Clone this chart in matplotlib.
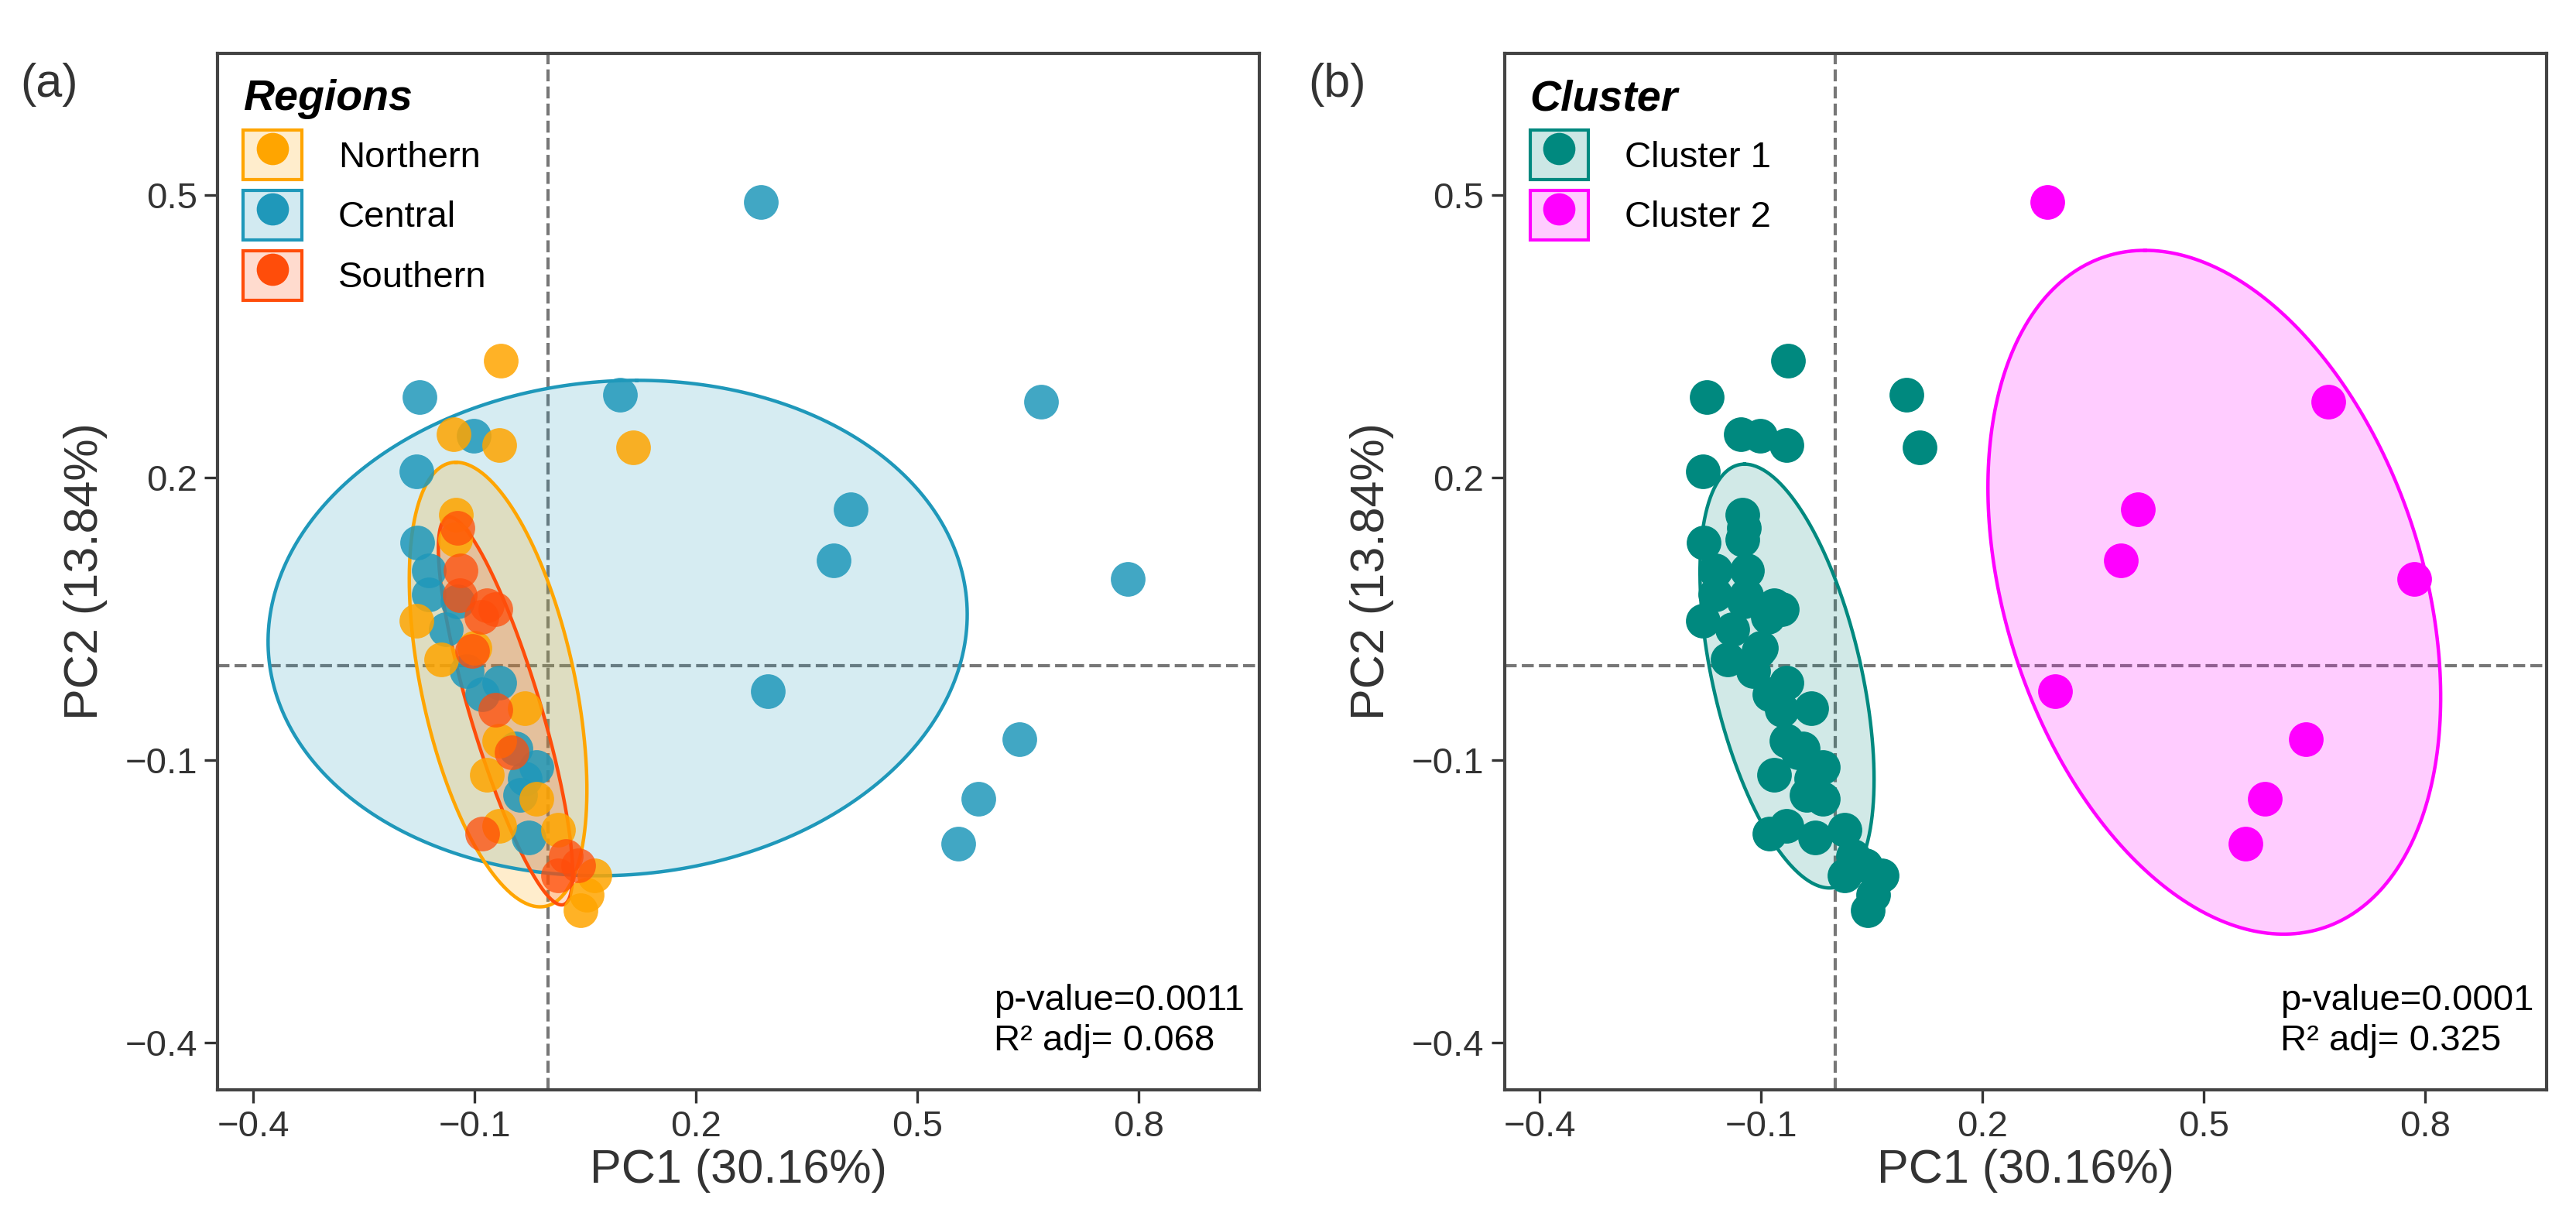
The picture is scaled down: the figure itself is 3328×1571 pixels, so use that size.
import numpy as np
import matplotlib
matplotlib.use('Agg')
import matplotlib.pyplot as plt
from matplotlib.patches import Patch, Polygon
from matplotlib.lines import Line2D

plt.rcParams['font.family'] = ['Liberation Sans', 'DejaVu Sans']

# --- data (PC1, PC2) ---
north_x = [-0.064, -0.128, -0.066, 0.115, -0.125, -0.126, -0.179, -0.145, -0.032, -0.083, -0.016, -0.066, 0.013, 0.063, 0.052, 0.044, -0.100, -0.066]
north_y = [0.324, 0.246, 0.234, 0.232, 0.160, 0.134, 0.048, 0.007, -0.045, -0.116, -0.141, -0.170, -0.174, -0.223, -0.243, -0.260, 0.019, -0.080]
south_x = [-0.123, -0.119, -0.120, -0.083, -0.072, -0.091, -0.103, -0.072, -0.050, -0.089, 0.024, 0.041, 0.013]
south_y = [0.146, 0.101, 0.075, 0.064, 0.060, 0.052, 0.016, -0.047, -0.092, -0.178, -0.202, -0.212, -0.223]
central_x = [0.288, 0.097, 0.668, 0.410, 0.387, 0.785, 0.298, 0.638, 0.583, 0.556,
             -0.174, -0.101, -0.179, -0.178, -0.162, -0.162, -0.139, -0.111, -0.066, -0.089,
             -0.044, -0.032, -0.016, -0.038, -0.027, -0.123]
central_y = [0.492, 0.288, 0.280, 0.166, 0.112, 0.092, -0.027, -0.078, -0.141, -0.189,
             0.285, 0.244, 0.206, 0.131, 0.101, 0.076, 0.039, -0.006, -0.018, -0.030,
             -0.088, -0.120, -0.108, -0.137, -0.182, 0.068]
# cluster 2 = the nine far-right central samples, everything else = cluster 1
cluster2_idx = [0, 2, 3, 4, 5, 6, 7, 8, 9]

# ellipses: centre, half-vector to top, horizontal half-width (data units)
ell_north = ((-0.068, -0.020), (-0.057, 0.236), 0.106)
ell_central = ((0.094, 0.040), (0.026, 0.263), 0.473)
ell_south = ((-0.058, -0.048), (-0.076, 0.206), 0.050)
ell_c1 = ((-0.065, -0.011), (-0.0575, 0.225), 0.103)
ell_c2 = ((0.514, 0.078), (-0.094, 0.363), 0.292)

C_N, C_C, C_S = '#FFA500', '#1F98BA', '#FF4D0A'
C_1, C_2 = '#00897F', '#FF00FF'


def ellipse(ax, e, col, alpha=0.18):
    (cx, cy), (ax_, ay_), bw = e
    t = np.linspace(0, 2 * np.pi, 300)
    xs = cx + np.cos(t) * ax_ + np.sin(t) * bw
    ys = cy + np.cos(t) * ay_
    ax.add_patch(Polygon(np.c_[xs, ys], closed=True, facecolor=col, alpha=alpha, lw=0, zorder=1))
    ax.plot(xs, ys, color=col, lw=1.6, zorder=3)


def style(ax):
    ax.set_xlim(-0.448, 0.964)
    ax.set_ylim(-0.45, 0.65)
    ax.set_xticks([-0.4, -0.1, 0.2, 0.5, 0.8])
    ax.set_yticks([-0.4, -0.1, 0.2, 0.5])
    ax.set_xticklabels(['\u22120.4', '\u22120.1', '0.2', '0.5', '0.8'])
    ax.set_yticklabels(['\u22120.4', '\u22120.1', '0.2', '0.5'])
    ax.tick_params(labelsize=17, colors='#333333', length=6, width=1.2)
    for s in ax.spines.values():
        s.set_color('#444444'); s.set_linewidth(1.5)
    ax.axvline(0, color='#777777', ls='--', lw=1.5, zorder=0)
    ax.axhline(0, color='#777777', ls='--', lw=1.5, zorder=0)
    ax.set_xlabel('PC1 (30.16%)', fontsize=22, color='#333333', labelpad=2)
    ax.set_ylabel('PC2 (13.84%)', fontsize=22, color='#333333', labelpad=8)


def handle(col):
    return (Patch(facecolor=col, alpha=0.2, edgecolor='none'),
            Patch(facecolor='none', edgecolor=col, lw=1.5),
            Line2D([], [], marker='o', ls='', color=col, markersize=14))


def legend(ax, handles, labels, title):
    ax.legend(handles, labels, title=title, loc='upper left', frameon=False, fontsize=17,
              title_fontproperties={'weight': 'bold', 'style': 'italic', 'size': 20},
              handlelength=1.6, handleheight=1.7, labelspacing=0.3, handletextpad=1.0,
              borderaxespad=0.3, alignment='left')


fig = plt.figure(figsize=(16.64, 7.855), dpi=200)
ax1 = fig.add_axes([0.0845, 0.104, 0.4045, 0.852])
ax2 = fig.add_axes([0.584, 0.104, 0.4045, 0.852])

S = 260
# panel a
ellipse(ax1, ell_central, C_C)
ax1.scatter(central_x, central_y, s=S, color=C_C, alpha=0.85, lw=0, zorder=4)
ellipse(ax1, ell_north, C_N, 0.2)
ax1.scatter(north_x, north_y, s=S, color=C_N, alpha=0.85, lw=0, zorder=5)
ellipse(ax1, ell_south, C_S, 0.2)
ax1.scatter(south_x, south_y, s=S, color=C_S, alpha=0.75, lw=0, zorder=6)
style(ax1)
legend(ax1, [handle(C_N), handle(C_C), handle(C_S)], ['Northern', 'Central', 'Southern'], 'Regions')
ax1.text(0.745, 0.03, 'p-value=0.0011\nR\u00b2 adj= 0.068', transform=ax1.transAxes,
         ha='left', va='bottom', fontsize=17, linespacing=1.25)

# panel b
c1x = [x for i, x in enumerate(central_x) if i not in cluster2_idx] + north_x + south_x
c1y = [y for i, y in enumerate(central_y) if i not in cluster2_idx] + north_y + south_y
c2x = [central_x[i] for i in cluster2_idx]
c2y = [central_y[i] for i in cluster2_idx]
ellipse(ax2, ell_c1, C_1)
ellipse(ax2, ell_c2, C_2, 0.2)
ax2.scatter(c1x, c1y, s=S, color=C_1, lw=0, zorder=4)
ax2.scatter(c2x, c2y, s=S, color=C_2, lw=0, zorder=4)
style(ax2)
legend(ax2, [handle(C_1), handle(C_2)], ['Cluster 1', 'Cluster 2'], 'Cluster')
ax2.text(0.745, 0.03, 'p-value=0.0001\nR\u00b2 adj= 0.325', transform=ax2.transAxes,
         ha='left', va='bottom', fontsize=17, linespacing=1.25)

fig.text(0.008, 0.93, '(a)', fontsize=22, color='#333333', va='center')
fig.text(0.508, 0.93, '(b)', fontsize=22, color='#333333', va='center')

fig.savefig('out.png', dpi=200)
